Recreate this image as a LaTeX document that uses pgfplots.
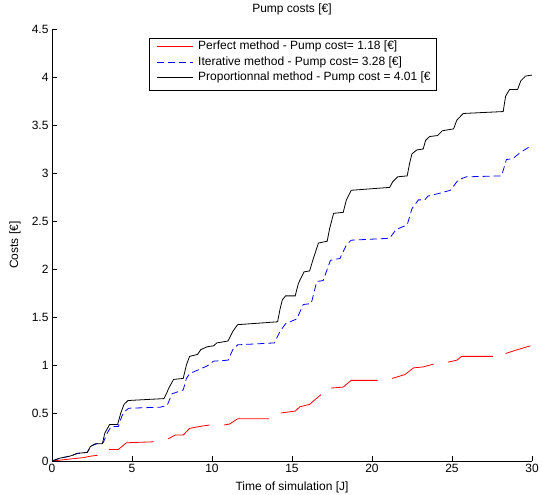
\documentclass[border=0pt]{standalone}
\usepackage{fontspec}
\setmainfont{Liberation Sans}
\usepackage{pgfplots}
\pgfplotsset{compat=1.18}

\begin{document}
\begin{tikzpicture}
\useasboundingbox (-52bp,-34bp) rectangle (491bp,461bp);
\begin{axis}[
    at={(0,0)}, anchor=south west,
    width=480bp, height=432bp, scale only axis,
    xmin=0, xmax=30, ymin=0, ymax=4.5,
    axis x line*=bottom, axis y line*=left,
    axis line style={black, line width=0.6pt},
    xtick={0,5,...,30},
    ytick={0,0.5,1,1.5,2,2.5,3,3.5,4,4.5},
    tick align=inside, major tick length=5bp,
    tick style={black, line width=0.6pt},
    /pgf/number format/assume math mode=true,
    ticklabel style={font=\fontsize{12bp}{14bp}\selectfont},
    title={Pump costs [€]},
    title style={at={(axis description cs:0.5,1.032)}, anchor=center, font=\fontsize{12bp}{14bp}\selectfont},
    xlabel={Time of simulation [J]},
    xlabel style={at={(axis description cs:0.5,-0.060)}, anchor=center, font=\fontsize{12bp}{14bp}\selectfont},
    ylabel={Costs [€]},
    ylabel style={at={(axis description cs:-0.077,0.5)}, anchor=center, font=\fontsize{12bp}{14bp}\selectfont},
    unbounded coords=jump,
]
% Perfect method
\addplot[draw=red, line width=0.8pt] coordinates {
    (0,0) (1.1,0.02) (1.95,0.035) (2.4,0.05) (2.85,0.06) (3.2,nan)
    (3.55,0.12) (4.15,0.12) (4.65,0.19) (6.35,0.20) (6.8,nan)
    (7.25,0.23) (7.7,0.27) (8.2,0.27) (8.6,0.34) (9.25,0.36) (9.85,0.375) (10.3,nan)
    (10.75,0.375) (11.1,0.385) (11.6,0.44) (13.55,0.44) (13.9,nan)
    (14.3,0.50) (15.2,0.52) (15.5,0.565) (16.1,0.59) (16.8,0.69) (17.1,nan)
    (17.45,0.76) (18.2,0.77) (18.7,0.84) (20.35,0.84) (20.8,nan)
    (21.25,0.86) (22.05,0.90) (22.6,0.97) (23.2,0.98) (23.85,1.01) (24.3,nan)
    (24.75,1.03) (25.3,1.05) (25.6,1.09) (27.55,1.09) (27.9,nan)
    (28.35,1.12) (29.1,1.16) (29.9,1.20)
};
% Iterative method
\addplot[draw=blue, line width=0.8pt, dash pattern=on 7bp off 4bp] coordinates {
    (0,0) (0.5,0.03) (1.1,0.05) (1.6,0.08) (2.2,0.09) (2.5,0.16) (2.8,0.18)
    (3.2,0.19) (3.45,0.29) (3.7,0.36) (4.15,0.36) (4.35,0.46) (4.5,0.51)
    (4.8,0.55) (6.75,0.56) (7.2,0.58) (7.5,0.70) (8.2,0.74) (8.4,0.86)
    (8.6,0.91) (9.15,0.95) (9.7,0.99) (10.1,1.04) (11.0,1.05) (11.3,1.16)
    (11.6,1.21) (13.9,1.23) (14.25,1.35) (14.6,1.43) (15.3,1.48) (15.7,1.63)
    (16.2,1.64) (16.55,1.87) (16.95,1.88) (17.4,2.09) (18.0,2.11) (18.4,2.25)
    (18.7,2.30) (21.1,2.32) (21.5,2.41) (22.2,2.46) (22.5,2.63) (22.9,2.72)
    (23.3,2.72) (23.5,2.76) (24.25,2.79) (24.9,2.82) (25.4,2.93) (25.9,2.96)
    (28.1,2.97) (28.4,3.14) (28.8,3.15) (29.25,3.21) (29.9,3.28)
};
% Proportionnal method
\addplot[draw=black, line width=0.8pt] coordinates {
    (0,0) (0.5,0.03) (1.1,0.05) (1.3,0.06) (1.6,0.08) (2.2,0.09) (2.4,0.15)
    (2.7,0.18) (3.15,0.18) (3.3,0.29) (3.6,0.38) (4.1,0.38) (4.3,0.50)
    (4.5,0.59) (4.75,0.63) (7.0,0.65) (7.15,0.70) (7.3,0.76) (7.6,0.85)
    (8.2,0.86) (8.4,1.0) (8.6,1.09) (9.1,1.11) (9.3,1.16) (9.7,1.19)
    (10.1,1.20) (10.3,1.23) (11.0,1.25) (11.3,1.35) (11.6,1.42) (14.1,1.45)
    (14.25,1.58) (14.4,1.68) (14.6,1.72) (15.2,1.72) (15.4,1.85) (15.75,1.97)
    (16.1,1.98) (16.3,2.09) (16.65,2.27) (17.2,2.29) (17.35,2.42) (17.6,2.58)
    (18.2,2.59) (18.4,2.72) (18.7,2.82) (21.1,2.85) (21.3,2.91) (21.6,2.96)
    (22.2,2.97) (22.35,3.10) (22.5,3.20) (22.8,3.24) (23.2,3.25) (23.35,3.34)
    (23.6,3.38) (24.1,3.39) (24.4,3.44) (25.1,3.46) (25.3,3.55) (25.7,3.62)
    (28.2,3.64) (28.35,3.80) (28.6,3.87) (29.1,3.87) (29.3,3.96) (29.6,4.01)
    (30,4.02)
};
% legend, built by hand (box, sample lines, texts)
\draw[black, line width=0.6pt, fill=white]
    (axis description cs:0.202,0.979) rectangle (axis description cs:0.800,0.859);
\addplot[forget plot, draw=red, line width=0.8pt] coordinates {(6.56,4.323) (8.81,4.323)};
\addplot[forget plot, draw=blue, line width=0.8pt, dash pattern=on 7bp off 4bp] coordinates {(6.56,4.153) (8.81,4.153)};
\addplot[forget plot, draw=black, line width=0.8pt] coordinates {(6.56,3.993) (8.81,3.993)};
\node[anchor=west, inner sep=0pt, font=\fontsize{12bp}{14bp}\selectfont]
    at (axis description cs:0.3042,0.9606) {Perfect method - Pump cost= 1.18 [€]};
\node[anchor=west, inner sep=0pt, font=\fontsize{12bp}{14bp}\selectfont]
    at (axis description cs:0.3042,0.9229) {Iterative method - Pump cost= 3.28 [€]};
\node[anchor=west, inner sep=0pt, font=\fontsize{12bp}{14bp}\selectfont]
    at (axis description cs:0.3042,0.8873) {Proportionnal method - Pump cost = 4.01 [€};
\end{axis}
\end{tikzpicture}
\end{document}
